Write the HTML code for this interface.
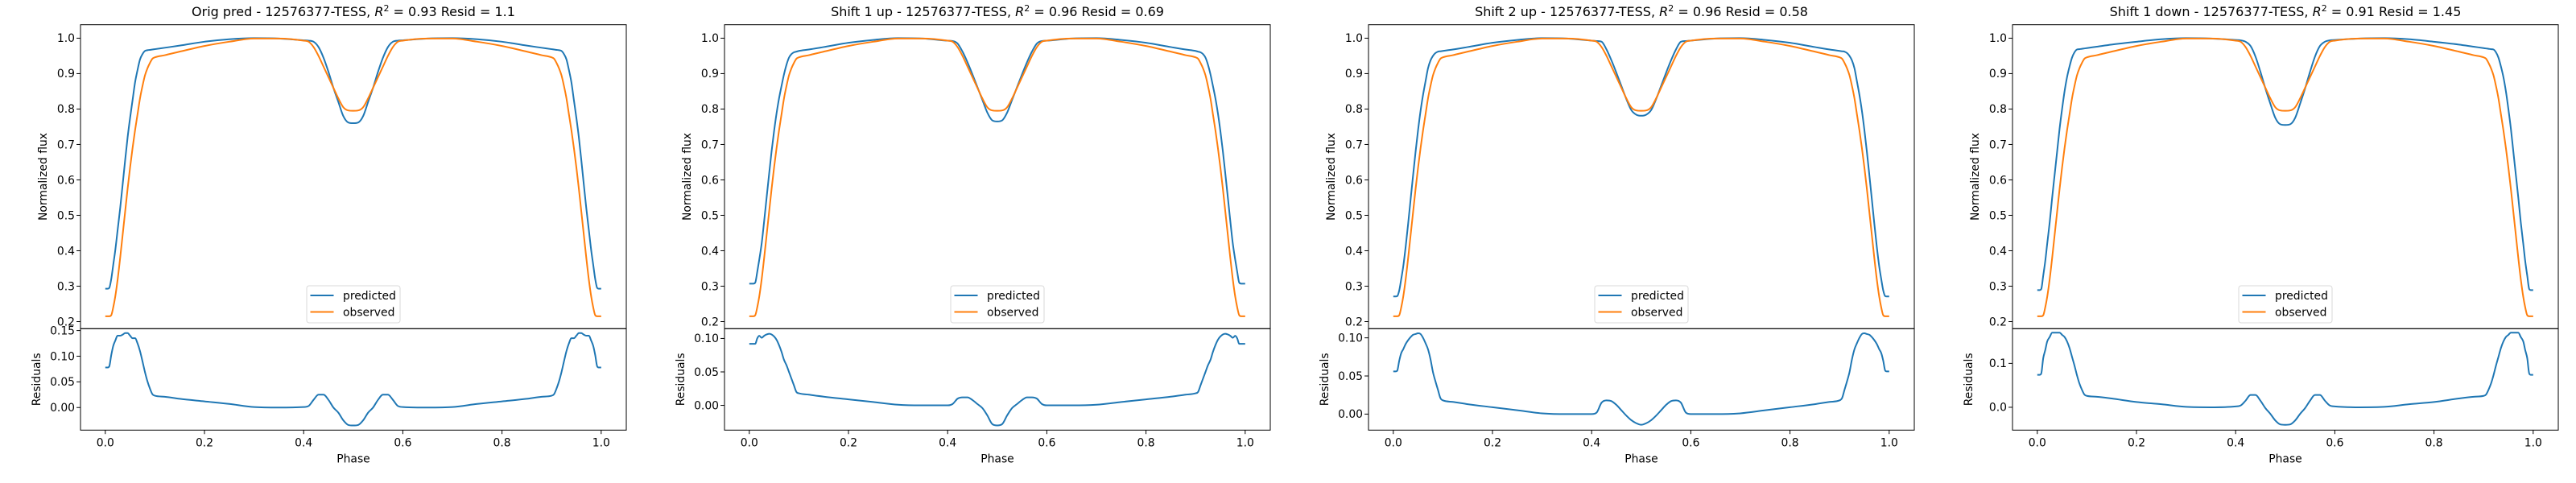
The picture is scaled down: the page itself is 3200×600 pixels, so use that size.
<!DOCTYPE html>
<html><head><meta charset="utf-8"><style>
html,body{margin:0;padding:0;background:#fff;}
svg{display:block;font-family:"DejaVu Sans","Liberation Sans",sans-serif;}
</style></head><body>
<svg id="fig" width="3200" height="600" viewBox="0 0 3200 600" xmlns="http://www.w3.org/2000/svg"></svg>
<script>
const phase = [0,0.005,0.008,0.012,0.016,0.02,0.025,0.03,0.035,0.04,0.045,0.05,0.055,0.06,0.065,0.07,0.075,0.08,0.085,0.09,0.095,0.1,0.12,0.15,0.2,0.25,0.3,0.35,0.4,0.41,0.42,0.43,0.44,0.45,0.46,0.47,0.48,0.49,0.5,
0.51,0.52,0.53,0.54,0.55,0.56,0.57,0.58,0.59,0.6,0.65,0.7,0.75,0.8,0.85,0.88,0.9,0.905,0.91,0.915,0.92,0.925,0.93,0.935,0.94,0.945,0.95,0.955,0.96,0.965,0.97,0.975,0.98,0.984,0.988,0.992,0.995,1.0];
const observed = [0.215,0.215,0.215,0.218,0.24,0.27,0.32,0.38,0.445,0.51,0.575,0.635,0.69,0.74,0.785,0.83,0.865,0.895,0.915,0.93,0.942,0.946,0.952,0.962,0.978,0.99,0.999,0.999,0.993,0.99,0.975,0.95,0.92,0.89,0.86,0.83,0.805,0.796,0.795,
0.796,0.805,0.83,0.86,0.89,0.92,0.95,0.975,0.99,0.993,0.999,0.999,0.99,0.978,0.962,0.952,0.946,0.942,0.93,0.915,0.895,0.865,0.83,0.785,0.74,0.69,0.635,0.575,0.51,0.445,0.38,0.32,0.27,0.24,0.218,0.215,0.215,0.215];
const predOrig = [0.293,0.293,0.295,0.32,0.36,0.4,0.46,0.52,0.587,0.655,0.72,0.775,0.825,0.875,0.91,0.94,0.955,0.964,0.966,0.967,0.968,0.969,0.973,0.979,0.99,0.997,1.0,0.999,0.994,0.993,0.99,0.975,0.945,0.905,0.86,0.82,0.78,0.762,0.76,
0.762,0.78,0.82,0.86,0.905,0.945,0.975,0.99,0.993,0.994,0.999,1.0,0.997,0.99,0.979,0.973,0.969,0.968,0.967,0.966,0.964,0.955,0.94,0.91,0.875,0.825,0.775,0.72,0.655,0.587,0.52,0.46,0.4,0.36,0.32,0.295,0.293,0.293];
const predUp1 = [0.307,0.307,0.307,0.31,0.34,0.374,0.421,0.484,0.551,0.617,0.681,0.738,0.788,0.83,0.865,0.898,0.925,0.945,0.955,0.96,0.962,0.964,0.968,0.975,0.987,0.995,1.0,0.999,0.993,0.992,0.985,0.962,0.932,0.898,0.862,0.826,0.79,0.768,0.765,
0.768,0.79,0.826,0.862,0.898,0.932,0.962,0.985,0.992,0.993,0.999,1.0,0.995,0.987,0.975,0.968,0.964,0.962,0.96,0.955,0.945,0.925,0.898,0.865,0.83,0.788,0.738,0.681,0.617,0.551,0.484,0.421,0.374,0.34,0.31,0.307,0.307,0.307];
const predUp2 = [0.271,0.271,0.272,0.288,0.32,0.355,0.412,0.477,0.546,0.614,0.68,0.741,0.795,0.84,0.878,0.915,0.937,0.95,0.958,0.962,0.963,0.964,0.968,0.975,0.987,0.995,1.0,0.999,0.993,0.992,0.99,0.968,0.937,0.902,0.865,0.828,0.797,0.784,0.781,
0.784,0.797,0.828,0.865,0.902,0.937,0.968,0.99,0.992,0.993,0.999,1.0,0.995,0.987,0.975,0.968,0.964,0.963,0.962,0.958,0.95,0.937,0.915,0.878,0.84,0.795,0.741,0.68,0.614,0.546,0.477,0.412,0.355,0.32,0.288,0.272,0.271,0.271];
const predDown1 = [0.289,0.289,0.292,0.33,0.37,0.42,0.48,0.55,0.615,0.68,0.745,0.8,0.85,0.89,0.92,0.945,0.96,0.968,0.969,0.97,0.971,0.972,0.976,0.982,0.99,0.997,1.0,0.999,0.995,0.994,0.99,0.978,0.948,0.905,0.858,0.815,0.775,0.757,0.755,
0.757,0.775,0.815,0.858,0.905,0.948,0.978,0.99,0.994,0.995,0.999,1.0,0.997,0.99,0.982,0.976,0.972,0.971,0.97,0.969,0.968,0.96,0.945,0.92,0.89,0.85,0.8,0.745,0.68,0.615,0.55,0.48,0.42,0.37,0.33,0.292,0.289,0.289];
const panelPrefixes = ["Orig pred","Shift 1 up","Shift 2 up","Shift 1 down"];
const r2Values = ["0.93","0.96","0.96","0.91"];
const residValues = ["1.1","0.69","0.58","1.45"];
const xTicks = [0,0.2,0.4,0.6,0.8,1.0];
const fluxTicks = [0.2,0.3,0.4,0.5,0.6,0.7,0.8,0.9,1.0];
const residTicks = [[0.15,0.10,0.05,0.00],[0.10,0.05,0.00],[0.10,0.05,0.00],[0.1,0.0]];
const residLims = [[-0.044,0.1536],[-0.037,0.1146],[-0.021,0.112],[-0.052,0.179]];
const preds = [predOrig,predUp1,predUp2,predDown1];

const NS="http://www.w3.org/2000/svg";
const svg=document.getElementById('fig');
function mk(tag,attrs,parent){const e=document.createElementNS(NS,tag);for(const k in attrs)e.setAttribute(k,attrs[k]);(parent||svg).appendChild(e);return e;}
function smoothPath(X,Y){
  const n=X.length,d=[],m=new Array(n);
  for(let i=0;i<n-1;i++)d.push((Y[i+1]-Y[i])/(X[i+1]-X[i]));
  m[0]=d[0];m[n-1]=d[n-2];
  for(let i=1;i<n-1;i++){m[i]=(d[i-1]*d[i]<=0)?0:(d[i-1]+d[i])/2;}
  for(let i=0;i<n-1;i++){
    if(d[i]===0){m[i]=0;m[i+1]=0;continue;}
    const a=m[i]/d[i],b=m[i+1]/d[i],s=a*a+b*b;
    if(s>9){const t=3/Math.sqrt(s);m[i]=t*a*d[i];m[i+1]=t*b*d[i];}
  }
  let p='M'+X[0].toFixed(2)+','+Y[0].toFixed(2);
  for(let i=0;i<n-1;i++){const h=(X[i+1]-X[i])/3;
    p+=' C'+(X[i]+h).toFixed(2)+','+(Y[i]+m[i]*h).toFixed(2)+' '+(X[i+1]-h).toFixed(2)+','+(Y[i+1]-m[i+1]*h).toFixed(2)+' '+X[i+1].toFixed(2)+','+Y[i+1].toFixed(2);}
  return p;
}
const TOP=30.7,MID=408.3,BOT=534.3,W=678,FLUXLIM=[0.18,1.038];
for(let p=0;p<4;p++){
  const L=100+800*p;
  const g=mk('g',{});
  
  
  const xs=v=>L+30.8+v*616;
  const yf=v=>MID-(v-FLUXLIM[0])/(FLUXLIM[1]-FLUXLIM[0])*(MID-TOP);
  const rl=residLims[p];
  const yr=v=>BOT-(v-rl[0])/(rl[1]-rl[0])*(BOT-MID);
  const t=mk('text',{x:L+W/2,y:20,'text-anchor':'middle','font-size':'16'},g);
  
  
  t.innerHTML=panelPrefixes[p]+' - 12576377-TESS, <tspan font-style="italic">R</tspan><tspan font-size="11" dy="-6">2</tspan><tspan dy="6"> = '+r2Values[p]+' Resid = '+residValues[p]+'</tspan>';
  fluxTicks.forEach(v=>{const y=yf(v);
    mk('line',{x1:L-4.9,x2:L,y1:y,y2:y,stroke:'#000','stroke-width':1},g);
    const tx=mk('text',{x:L-7,y:y+4.8,'text-anchor':'end','font-size':'13.9'},g);
    
    
    tx.textContent=v.toFixed(1);});
  residTicks[p].forEach(v=>{const y=yr(v);
    mk('line',{x1:L-4.9,x2:L,y1:y,y2:y,stroke:'#000','stroke-width':1},g);
    const tx=mk('text',{x:L-7,y:y+4.8,'text-anchor':'end','font-size':'13.9'},g);
    
    
    tx.textContent=v.toFixed(p===3?1:2);});
  xTicks.forEach(v=>{const x=xs(v);
    mk('line',{x1:x,x2:x,y1:BOT,y2:BOT+4.9,stroke:'#000','stroke-width':1},g);
    const tx=mk('text',{x:x,y:BOT+20,'text-anchor':'middle','font-size':'13.9'},g);
    
    
    tx.textContent=v.toFixed(1);});
  const yl=mk('text',{x:0,y:0,'text-anchor':'middle','font-size':'13.9',transform:`translate(${L-42},${(TOP+MID)/2}) rotate(-90)`},g);
  
  
  yl.textContent='Normalized flux';
  const rl2=mk('text',{x:0,y:0,'text-anchor':'middle','font-size':'13.9',transform:`translate(${L-50},${(MID+BOT)/2}) rotate(-90)`},g);
  
  
  rl2.textContent='Residuals';
  const xl=mk('text',{x:L+W/2,y:BOT+40,'text-anchor':'middle','font-size':'13.9'},g);
  
  
  xl.textContent='Phase';
  const pred=preds[p];
  const X=phase.map(xs);
  const l1=mk('path',{d:smoothPath(X,pred.map(yf)),fill:'none',stroke:'#1f77b4','stroke-width':2,'stroke-linejoin':'round'},g);
  
  
  const l2=mk('path',{d:smoothPath(X,observed.map(yf)),fill:'none',stroke:'#ff7f0e','stroke-width':2,'stroke-linejoin':'round'},g);
  
  
  const l3=mk('path',{d:smoothPath(X,pred.map((v,i)=>yr(v-observed[i]))),fill:'none',stroke:'#1f77b4','stroke-width':2,'stroke-linejoin':'round'},g);
  
  
  const f1=mk('rect',{x:L,y:TOP,width:W,height:MID-TOP,fill:'none',stroke:'#000','stroke-width':1},g);
  
  
  const f2=mk('rect',{x:L,y:MID,width:W,height:BOT-MID,fill:'none',stroke:'#000','stroke-width':1},g);
  
  
  const lg=mk('g',{},g);
  
  
  const lx=L+W/2-58;
  mk('rect',{x:lx,y:355,width:116,height:46,rx:3,fill:'#fff','fill-opacity':0.8,stroke:'#d9d9d9','stroke-width':1},lg);
  mk('line',{x1:lx+4.5,x2:lx+33.5,y1:367,y2:367,stroke:'#1f77b4','stroke-width':2},lg);
  mk('line',{x1:lx+4.5,x2:lx+33.5,y1:387.5,y2:387.5,stroke:'#ff7f0e','stroke-width':2},lg);
  const e1=mk('text',{x:lx+45,y:372,'font-size':'13.9'},lg);
  
  
  e1.textContent='predicted';
  const e2=mk('text',{x:lx+45,y:392.5,'font-size':'13.9'},lg);
  
  
  e2.textContent='observed';
}
</script>
</body></html>
